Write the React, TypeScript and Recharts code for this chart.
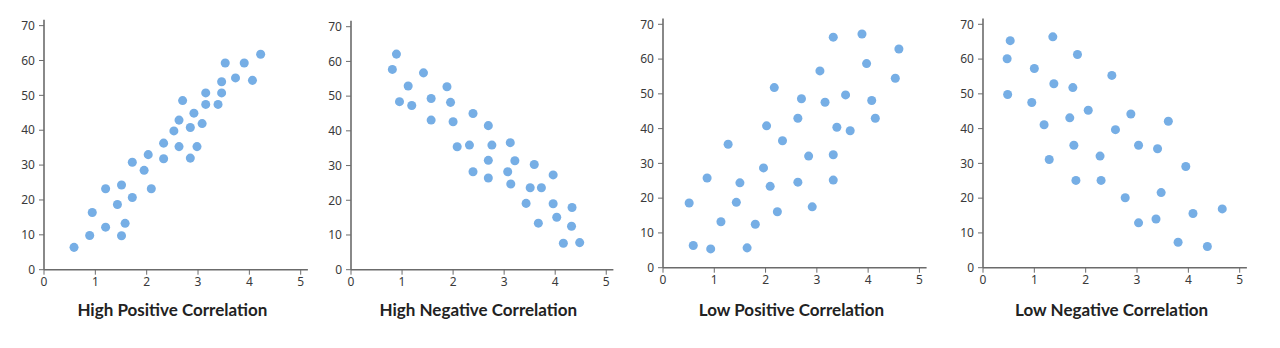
import React from 'react';
import { ScatterChart, Scatter, XAxis, YAxis, ZAxis } from 'recharts';

type Pt = { x: number; y: number };

const highPositive: Pt[] = [
  { x: 0.585, y: 6.4 }, { x: 0.89, y: 9.8 }, { x: 0.94, y: 16.4 }, { x: 1.2, y: 12.2 },
  { x: 1.2, y: 23.2 }, { x: 1.51, y: 9.75 }, { x: 1.58, y: 13.3 }, { x: 1.43, y: 18.7 },
  { x: 1.51, y: 24.3 }, { x: 1.72, y: 20.7 }, { x: 1.72, y: 30.8 }, { x: 1.95, y: 28.5 },
  { x: 2.03, y: 33.0 }, { x: 2.09, y: 23.2 }, { x: 2.33, y: 36.3 }, { x: 2.33, y: 31.8 },
  { x: 2.53, y: 39.8 }, { x: 2.63, y: 35.3 }, { x: 2.63, y: 42.9 }, { x: 2.7, y: 48.5 },
  { x: 2.85, y: 40.8 }, { x: 2.85, y: 32.0 }, { x: 2.92, y: 44.9 }, { x: 2.98, y: 35.3 },
  { x: 3.08, y: 41.9 }, { x: 3.15, y: 47.4 }, { x: 3.15, y: 50.7 }, { x: 3.39, y: 47.4 },
  { x: 3.46, y: 50.7 }, { x: 3.46, y: 53.9 }, { x: 3.53, y: 59.3 }, { x: 3.73, y: 55.0 },
  { x: 3.9, y: 59.3 }, { x: 4.06, y: 54.3 }, { x: 4.22, y: 61.8 },
];

const highNegative: Pt[] = [
  { x: 0.81, y: 57.7 }, { x: 0.89, y: 62.1 }, { x: 0.95, y: 48.4 }, { x: 1.12, y: 52.9 },
  { x: 1.19, y: 47.3 }, { x: 1.42, y: 56.7 }, { x: 1.57, y: 49.3 }, { x: 1.57, y: 43.1 },
  { x: 1.88, y: 52.7 }, { x: 1.95, y: 48.2 }, { x: 2.0, y: 42.6 }, { x: 2.08, y: 35.4 },
  { x: 2.32, y: 35.9 }, { x: 2.39, y: 45.0 }, { x: 2.39, y: 28.2 }, { x: 2.69, y: 41.5 },
  { x: 2.69, y: 31.5 }, { x: 2.69, y: 26.4 }, { x: 2.76, y: 35.9 }, { x: 3.07, y: 28.2 },
  { x: 3.12, y: 36.6 }, { x: 3.13, y: 24.7 }, { x: 3.21, y: 31.4 }, { x: 3.43, y: 19.1 },
  { x: 3.51, y: 23.6 }, { x: 3.59, y: 30.3 }, { x: 3.67, y: 13.4 }, { x: 3.73, y: 23.6 },
  { x: 3.96, y: 27.3 }, { x: 3.96, y: 19.0 }, { x: 4.03, y: 15.1 }, { x: 4.16, y: 7.6 },
  { x: 4.33, y: 17.9 }, { x: 4.32, y: 12.5 }, { x: 4.48, y: 7.8 },
];

const lowPositive: Pt[] = [
  { x: 0.51, y: 18.6 }, { x: 0.59, y: 6.4 }, { x: 0.86, y: 25.8 }, { x: 0.93, y: 5.4 },
  { x: 1.13, y: 13.2 }, { x: 1.27, y: 35.5 }, { x: 1.43, y: 18.8 }, { x: 1.5, y: 24.4 },
  { x: 1.64, y: 5.7 }, { x: 1.8, y: 12.5 }, { x: 1.96, y: 28.7 }, { x: 2.02, y: 40.8 },
  { x: 2.09, y: 23.4 }, { x: 2.17, y: 51.8 }, { x: 2.23, y: 16.1 }, { x: 2.33, y: 36.5 },
  { x: 2.63, y: 24.6 }, { x: 2.63, y: 43.0 }, { x: 2.7, y: 48.6 }, { x: 2.84, y: 32.1 },
  { x: 2.91, y: 17.5 }, { x: 3.06, y: 56.6 }, { x: 3.16, y: 47.6 }, { x: 3.32, y: 66.3 },
  { x: 3.32, y: 32.5 }, { x: 3.32, y: 25.2 }, { x: 3.39, y: 40.4 }, { x: 3.56, y: 49.7 },
  { x: 3.65, y: 39.4 }, { x: 3.88, y: 67.2 }, { x: 3.97, y: 58.7 }, { x: 4.07, y: 48.1 },
  { x: 4.14, y: 43.0 }, { x: 4.53, y: 54.5 }, { x: 4.6, y: 62.9 },
];

const lowNegative: Pt[] = [
  { x: 0.47, y: 60.1 }, { x: 0.48, y: 49.8 }, { x: 0.53, y: 65.3 }, { x: 0.95, y: 47.5 },
  { x: 1.0, y: 57.3 }, { x: 1.19, y: 41.1 }, { x: 1.29, y: 31.1 }, { x: 1.36, y: 66.4 },
  { x: 1.38, y: 52.9 }, { x: 1.69, y: 43.1 }, { x: 1.75, y: 51.8 }, { x: 1.77, y: 35.2 },
  { x: 1.81, y: 25.1 }, { x: 1.84, y: 61.3 }, { x: 2.05, y: 45.3 }, { x: 2.28, y: 32.1 },
  { x: 2.3, y: 25.1 }, { x: 2.51, y: 55.3 }, { x: 2.58, y: 39.7 }, { x: 2.77, y: 20.1 },
  { x: 2.88, y: 44.2 }, { x: 3.03, y: 35.2 }, { x: 3.03, y: 12.9 }, { x: 3.37, y: 14.0 },
  { x: 3.4, y: 34.2 }, { x: 3.47, y: 21.6 }, { x: 3.61, y: 42.1 }, { x: 3.8, y: 7.3 },
  { x: 3.95, y: 29.1 }, { x: 4.09, y: 15.6 }, { x: 4.37, y: 6.1 }, { x: 4.66, y: 16.9 },
];

const xTicks = [0, 1, 2, 3, 4, 5];
const yTicks = [0, 10, 20, 30, 40, 50, 60, 70];
const titles = ['High Positive Correlation', 'High Negative Correlation', 'Low Positive Correlation', 'Low Negative Correlation'];
const datasets = [highPositive, highNegative, lowPositive, lowNegative];

// layout (page coords): plot left, plot right, zero line y, plot top
const layouts = [
  { left: 44, right: 307.9, bottom: 269.7, top: 19.7 },
  { left: 350.7, right: 613.1, bottom: 269.7, top: 20.8 },
  { left: 663.3, right: 926.9, bottom: 267.7, top: 18.4 },
  { left: 983.3, right: 1247.2, bottom: 267.7, top: 18.4 },
];

const Y_W = 34;
const X_H = 30;
const RIGHT = 5;
const DOT = '#76AEE5';
const AXIS = '#6b6b6b';

function Panel({ data, title, lay }: { data: Pt[]; title: string; lay: typeof layouts[0] }) {
  const plotW = lay.right - lay.left;
  const plotH = lay.bottom - lay.top;
  const chartLeft = lay.left - 8 - Y_W;
  const marginTop = lay.top - 8;
  const width = Y_W + plotW + RIGHT;
  const height = marginTop + plotH + X_H;
  const tickStyle = { fill: '#3a3a3a', fontSize: 12, fontFamily: '"Noto Sans", sans-serif' };
  return (
    <>
      <div style={{ position: 'absolute', left: chartLeft, top: 0 }}>
        <ScatterChart width={width} height={height} margin={{ top: marginTop, right: RIGHT, bottom: 0, left: 0 }}>
          <XAxis
            type="number"
            dataKey="x"
            domain={[0, 5.14]}
            ticks={xTicks}
            height={X_H}
            tick={tickStyle}
            tickSize={5}
            tickMargin={3}
            axisLine={{ stroke: AXIS, strokeWidth: 1.6 }}
            tickLine={{ stroke: AXIS }}
            allowDataOverflow
          />
          <YAxis
            type="number"
            dataKey="y"
            domain={[0, 71.7]}
            ticks={yTicks}
            width={Y_W}
            tick={tickStyle}
            tickSize={5}
            tickMargin={4}
            axisLine={{ stroke: AXIS, strokeWidth: 1.6 }}
            tickLine={{ stroke: AXIS }}
            allowDataOverflow
          />
          <ZAxis range={[52, 52]} />
          <Scatter data={data} fill={DOT} isAnimationActive={false} />
        </ScatterChart>
      </div>
      <div
        style={{
          position: 'absolute',
          left: lay.left - 8,
          width: plotW * (5 / 5.14),
          top: 292,
          textAlign: 'center',
          fontFamily: 'Lato, "Noto Sans", sans-serif',
          fontWeight: 700,
          fontSize: 17,
          lineHeight: '20px',
          color: '#222',
        }}
      >
        {title}
      </div>
    </>
  );
}

export default function App() {
  return (
    <div style={{ position: 'relative', width: 1264, height: 332 }}>
      {datasets.map((d, i) => (
        <Panel key={i} data={d} title={titles[i]} lay={layouts[i]} />
      ))}
    </div>
  );
}
